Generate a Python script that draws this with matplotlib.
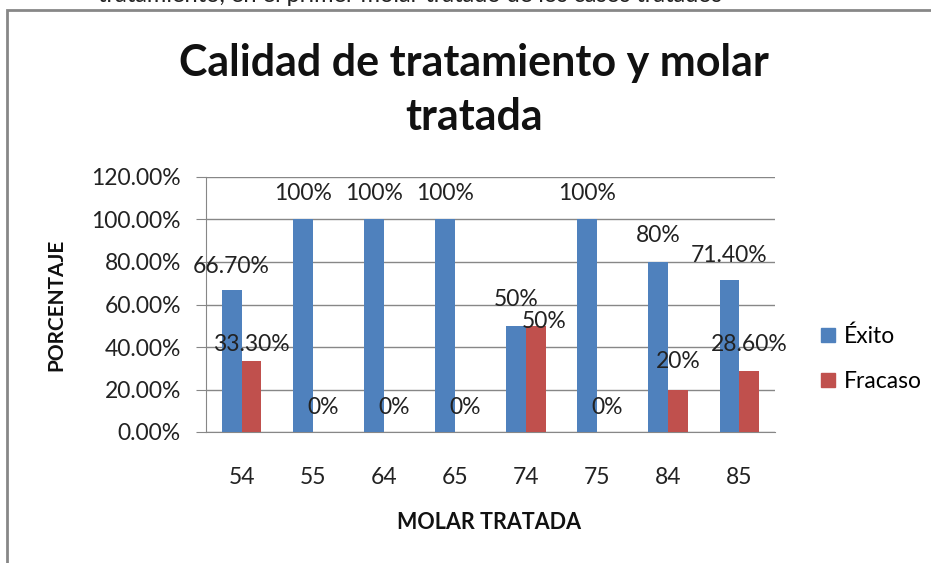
import matplotlib
matplotlib.use('Agg')
import matplotlib.pyplot as plt
from matplotlib.patches import Rectangle, Patch
import numpy as np

plt.rcParams['font.family'] = ['Lato', 'DejaVu Sans']

# datos
molares = ['54', '55', '64', '65', '74', '75', '84', '85']
exito = [66.7, 100, 100, 100, 50, 100, 80, 71.4]
fracaso = [33.3, 0, 0, 0, 50, 0, 20, 28.6]
exito_txt = ['66.70%', '100%', '100%', '100%', '50%', '100%', '80%', '71.40%']
fracaso_txt = ['33.30%', '0%', '0%', '0%', '50%', '0%', '20%', '28.60%']
y_ticks = [0, 20, 40, 60, 80, 100, 120]

azul = '#4F81BD'
rojo = '#C0504D'
gris = '#878787'

fig = plt.figure(figsize=(9.31, 5.63), dpi=100)
W, H = 931, 563

# borde del grafico (recortado por la imagen)
fig.patches.append(Rectangle((7 / W, -0.1), 1.2, 1.1 - 10 / H, transform=fig.transFigure,
                             fill=False, edgecolor=gris, lw=2, clip_on=False))
# texto del documento cortado arriba
fig.text(98 / W, 1 - 2 / H, 'tratamiento, en el primer molar tratado de los casos tratados',
         fontsize=17, color='#222222', va='baseline', ha='left')

ax = fig.add_axes([206 / W, (H - 432) / H, (775 - 206) / W, (432 - 177) / H])

x = np.arange(len(molares))
w = 0.28
ax.bar(x - w / 2, exito, w, color=azul, label='Éxito', zorder=3)
ax.bar(x + w / 2, fracaso, w, color=rojo, label='Fracaso', zorder=3)

# desplazamientos de etiquetas (pixeles), como en el original
off_e = [24, 26, 26, 26, 26, 26, 26, 25]
off_f = [17, 25, 25, 25, 4, 25, 28, 27]
dx_f = [0, 0, 0, 0, 8, 0, 0, 0]
for i in range(len(molares)):
    ax.annotate(exito_txt[i], (x[i] - w / 2, exito[i]), xytext=(0, off_e[i]),
                textcoords='offset pixels', ha='center', va='center', fontsize=16.5,
                color='#222222', zorder=5)
    ax.annotate(fracaso_txt[i], (x[i] + w / 2, fracaso[i]), xytext=(dx_f[i], off_f[i]),
                textcoords='offset pixels', ha='center', va='center', fontsize=16.5,
                color='#222222', zorder=5)

ax.set_xlim(-0.5, len(molares) - 0.5)
ax.set_ylim(0, 120)
ax.set_yticks(y_ticks)
ax.set_yticklabels(['%.2f%%' % v for v in y_ticks])
ax.set_xticks(x)
ax.set_xticklabels(molares)
ax.yaxis.grid(True, color=gris, lw=1, zorder=0)
ax.set_axisbelow(True)
for s in ['top', 'right']:
    ax.spines[s].set_visible(False)
for s in ['left', 'bottom']:
    ax.spines[s].set_color(gris)
ax.tick_params(axis='y', length=7, color=gris, labelsize=16.5, labelcolor='#222222', pad=11)
ax.tick_params(axis='x', length=0, labelsize=16.5, labelcolor='#222222', pad=25)

ax.set_ylabel('PORCENTAJE', fontsize=15, fontweight='bold', color='#111111')
ax.yaxis.set_label_coords((66 - 206) / (775 - 206), 0.5)
ax.set_xlabel('MOLAR TRATADA', fontsize=15.5, fontweight='bold', color='#111111')
ax.xaxis.set_label_coords((489 - 206) / (775 - 206), -(512 - 432) / (432 - 177))

fig.text(474 / W, 1 - 90 / H, 'Calidad de tratamiento y molar\ntratada', ha='center',
         va='center', fontsize=31, fontweight='bold', color='#111111', linespacing=1.45)

ax.legend(handles=[Patch(color=azul, label='Éxito'), Patch(color=rojo, label='Fracaso')],
          loc='center left', bbox_to_anchor=((812 - 206) / (775 - 206), (432 - 359) / (432 - 177)),
          frameon=False, fontsize=16.5, handlelength=0.6, handleheight=0.6,
          handletextpad=0.4, labelspacing=1.05, borderaxespad=0)

fig.savefig('out.png', dpi=100)
